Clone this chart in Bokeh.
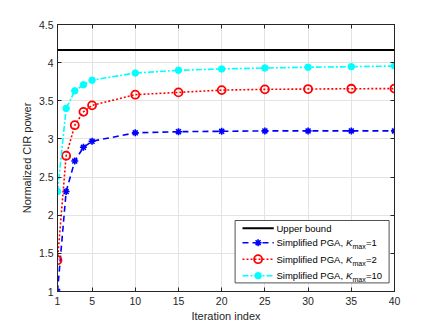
from bokeh.plotting import figure
from bokeh.models import Range1d, FixedTicker, LinearAxis, Span
from bokeh.core.properties import value
from bokeh.embed import file_html
from bokeh.resources import INLINE

# ---------------- data ----------------
iterations = [1, 2, 3, 4, 5, 10, 15, 20, 25, 30, 35, 40]
upper_bound = 4.167
pga_kmax1 = [1.00, 2.31, 2.71, 2.89, 2.97, 3.08, 3.095, 3.10, 3.105, 3.105, 3.105, 3.105]
pga_kmax2 = [1.41, 2.78, 3.18, 3.355, 3.44, 3.58, 3.61, 3.64, 3.65, 3.654, 3.658, 3.66]
pga_kmax10 = [2.31, 3.40, 3.63, 3.71, 3.77, 3.864, 3.90, 3.917, 3.93, 3.94, 3.947, 3.956]
x_ticks = [1, 5, 10, 15, 20, 25, 30, 35, 40]
y_ticks = [1, 1.5, 2, 2.5, 3, 3.5, 4, 4.5]
y_tick_labels = ["1", "1.5", "2", "2.5", "3", "3.5", "4", "4.5"]
legend_labels = ["Upper bound", "Simplified PGA, ", "Simplified PGA, ", "Simplified PGA, "]
legend_kmax = [None, "1", "2", "10"]

# ---------------- styling / layout ----------------
W, H = 436, 327
BL, BR, BT, BB = 57, 42, 24, 36
FONT = "Liberation Sans"
AXC = "#262626"
X0, X1 = 1, 40
Y0, Y1 = 1, 4.5

p = figure(width=W, height=H, output_backend="svg", toolbar_location=None,
           x_range=Range1d(X0, X1), y_range=Range1d(Y0, Y1),
           min_border_left=BL, min_border_right=BR, min_border_top=BT, min_border_bottom=BB)
p.background_fill_color = "white"
p.border_fill_color = "white"
p.outline_line_color = AXC
p.outline_line_width = 1

for ax in (p.xaxis[0], p.yaxis[0]):
    ax.axis_line_color = AXC
    ax.major_tick_line_color = AXC
    ax.major_tick_in = 4
    ax.major_tick_out = 0
    ax.minor_tick_line_color = None
    ax.major_label_text_font = FONT
    ax.major_label_text_font_size = "10.5px"
    ax.major_label_text_color = AXC
    ax.axis_label_text_font = FONT
    ax.axis_label_text_font_size = "11px"
    ax.axis_label_text_font_style = "normal"
    ax.axis_label_text_color = AXC

p.xaxis[0].ticker = FixedTicker(ticks=x_ticks)
p.yaxis[0].ticker = FixedTicker(ticks=y_ticks)
p.yaxis[0].major_label_overrides = {t: l for t, l in zip(y_ticks, y_tick_labels)}
p.xaxis[0].axis_label = "Iteration index"
p.yaxis[0].axis_label = "Normalized CIR power"
p.xaxis[0].major_label_standoff = 5
p.xaxis[0].axis_label_standoff = 2
p.yaxis[0].major_label_standoff = 4
p.yaxis[0].axis_label_standoff = 3

for loc, ticks in (("above", x_ticks), ("right", y_ticks)):
    ax = LinearAxis(ticker=FixedTicker(ticks=ticks),
                    major_label_overrides={t: "" for t in ticks},
                    axis_line_color=AXC, major_tick_line_color=AXC,
                    major_tick_in=4, major_tick_out=0, minor_tick_line_color=None,
                    major_label_standoff=0)
    p.add_layout(ax, loc)

p.xgrid.ticker = FixedTicker(ticks=x_ticks)
p.ygrid.ticker = FixedTicker(ticks=y_ticks)
p.grid.grid_line_color = "#E3E3E3"
p.grid.grid_line_width = 1

# ---------------- series ----------------
BLUE, RED, CYAN = "#0000FF", "#FF0000", "#00FFFF"
DASH1, DASH2, DASH10 = "6 4", "2 2", "6 2 2 2"
ub = Span(location=upper_bound, dimension="width", line_color="black", line_width=2)
p.add_layout(ub)

p.line(iterations, pga_kmax1, line_color=BLUE, line_width=1.6, line_dash=DASH1)
p.scatter(iterations, pga_kmax1, marker="asterisk", size=7, line_color=BLUE, line_width=1.6)

p.line(iterations, pga_kmax2, line_color=RED, line_width=1.6, line_dash=DASH2)
p.scatter(iterations, pga_kmax2, marker="circle", size=8, line_color=RED, fill_color=None, line_width=1.8)

p.line(iterations, pga_kmax10, line_color=CYAN, line_width=1.6, line_dash=DASH10)
p.scatter(iterations, pga_kmax10, marker="circle", size=6.5, line_color=CYAN, fill_color=CYAN)

# ---------------- custom legend (pixel geometry inside frame) ----------------
FW = W - BL - BR
FH = H - BT - BB


def dx(px):
    return X0 + px / FW * (X1 - X0)


def dy(py):
    return Y1 - py / FH * (Y1 - Y0)


leg_l, leg_r, leg_t, leg_b = 177.6, 331.6, 196.0, 258.4
p.quad(left=[dx(leg_l)], right=[dx(leg_r)], top=[dy(leg_t)], bottom=[dy(leg_b)],
       fill_color="white", line_color=AXC, line_width=0.8)

row_py = [203.8, 218.2, 234.7, 251.2]
s0, s1, sm, tx = 185.0, 216.3, 200.6, 219.0
styles = [
    dict(color="black", dash="solid", width=2, marker=None),
    dict(color=BLUE, dash=DASH1, width=1.6, marker="asterisk"),
    dict(color=RED, dash=DASH2, width=1.6, marker="circle_open"),
    dict(color=CYAN, dash=DASH10, width=1.6, marker="circle"),
]
LFS = 9.5
for i, st in enumerate(styles):
    yy = dy(row_py[i])
    p.segment(x0=[dx(s0)], x1=[dx(s1)], y0=[yy], y1=[yy], line_color=st["color"],
              line_width=st["width"], line_dash=st["dash"])
    if st["marker"] == "asterisk":
        p.scatter([dx(sm)], [yy], marker="asterisk", size=7, line_color=BLUE, line_width=1.6)
    elif st["marker"] == "circle_open":
        p.scatter([dx(sm)], [yy], marker="circle", size=8, line_color=RED, fill_color=None, line_width=1.8)
    elif st["marker"] == "circle":
        p.scatter([dx(sm)], [yy], marker="circle", size=6.5, line_color=CYAN, fill_color=CYAN)
    p.text([dx(tx)], [yy], text=[legend_labels[i]], text_font=value(FONT),
           text_font_size=f"{LFS}px", text_baseline="middle", text_color="black")
    if legend_kmax[i] is not None:
        p.text([dx(tx)], [yy], text=["K"], x_offset=69.5, text_font=value(FONT),
               text_font_size=f"{LFS}px", text_font_style="italic", text_baseline="middle",
               text_color="black")
        p.text([dx(tx)], [yy], text=["max"], x_offset=76.0, y_offset=4, text_font=value(FONT),
               text_font_size="7px", text_baseline="middle", text_color="black")
        p.text([dx(tx)], [yy], text=["=" + legend_kmax[i]], x_offset=89.5, text_font=value(FONT),
               text_font_size=f"{LFS}px", text_baseline="middle", text_color="black")

open("out.html", "w").write(file_html(p, INLINE))
